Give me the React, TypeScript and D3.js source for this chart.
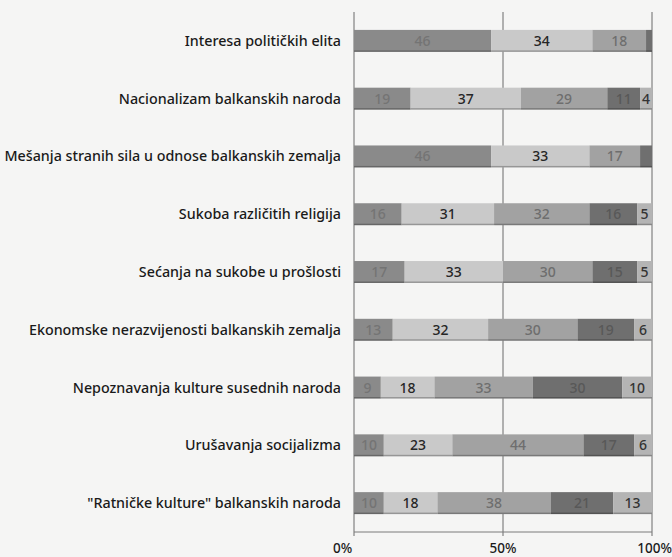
import React from "react";
import * as d3 from "d3";

const categories = [
  "Interesa političkih elita",
  "Nacionalizam balkanskih naroda",
  "Mešanja stranih sila u odnose balkanskih zemalja",
  "Sukoba različitih religija",
  "Sećanja na sukobe u prošlosti",
  "Ekonomske nerazvijenosti balkanskih zemalja",
  "Nepoznavanja kulture susednih naroda",
  "Urušavanja socijalizma",
  "\"Ratničke kulture\" balkanskih naroda",
];

const s1 = [46, 19, 46, 16, 17, 13, 9, 10, 10];
const s2 = [34, 37, 33, 31, 33, 32, 18, 23, 18];
const s3 = [18, 29, 17, 32, 30, 30, 33, 44, 38];
const s4 = [2, 11, 4, 16, 15, 19, 30, 17, 21];
const s5 = [0, 4, 0, 5, 5, 6, 10, 6, 13];
const showLabel4 = [false, true, false, true, true, true, true, true, true];

const tickValues = [0, 50, 100];
const tickLabels = ["0%", "50%", "100%"];

const seriesFill = ["#8a8a8a", "#c9c9c9", "#a2a2a2", "#6f6f6f", "#b4b4b4"];
const seriesText = ["#747474", "#262626", "#6e6e6e", "#585858", "#333333"];

export default function App() {
  const W = 672, H = 557;
  const x = d3.scaleLinear().domain([0, 100]).range([354, 652]);
  const y = d3.scaleBand().domain(categories).range([12, 532]).paddingInner(0.62).paddingOuter(0.31);
  const series = [s1, s2, s3, s4, s5];
  const rows = categories.map((c, i) => {
    let acc = 0;
    return series.map((s, k) => {
      const v = s[i];
      const seg = { k, v, x0: acc, x1: acc + v };
      acc += v;
      return seg;
    });
  });
  const font = "'Noto Sans', 'Open Sans', sans-serif";
  return (
    <svg width={W} height={H} style={{ position: "absolute", left: 0, top: 0, background: "#f5f5f4" }}>
      <rect x={0} y={0} width={W} height={H} fill="#f5f5f4" />
      {tickValues.map((t) => (
        <line key={t} x1={x(t)} x2={x(t)} y1={12} y2={536} stroke="#6a6a6a" strokeWidth={1} />
      ))}
      <line x1={x(0)} x2={x(100)} y1={532} y2={532} stroke="#7a7a7a" strokeWidth={1} />
      {categories.map((c, i) => {
        const by = y(c)!;
        const bh = y.bandwidth();
        return (
          <g key={c}>
            <text x={341} y={by + bh / 2} dy="0.35em" textAnchor="end" fontFamily={font} fontSize={14.3} fontWeight={500} fill="#1a1a1a">
              {c}
            </text>
            {rows[i].filter((s) => s.v > 0).map((s) => (
              <g key={s.k}>
                <rect x={x(s.x0)} y={by} width={x(s.x1) - x(s.x0)} height={bh} fill={seriesFill[s.k]} />
                <rect x={x(s.x0)} y={by + bh - 1.5} width={x(s.x1) - x(s.x0)} height={1.5} fill="#000" opacity={0.25} />
                {(s.k !== 3 || showLabel4[i]) && (
                  <text x={(x(s.x0) + x(s.x1)) / 2} y={by + bh / 2} dy="0.36em" textAnchor="middle" fontFamily={font} fontSize={14} fontWeight={500} fill={seriesText[s.k]}>
                    {s.v}
                  </text>
                )}
              </g>
            ))}
          </g>
        );
      })}
      {tickValues.map((t, i) => (
        <text key={t} x={x(t)} y={553} textAnchor={i === 0 ? "start" : i === 2 ? "end" : "middle"} dx={i === 0 ? -21 : i === 2 ? 20 : 0} fontFamily={font} fontSize={13.5} fontWeight={500} fill="#1a1a1a">
          {tickLabels[i]}
        </text>
      ))}
    </svg>
  );
}
